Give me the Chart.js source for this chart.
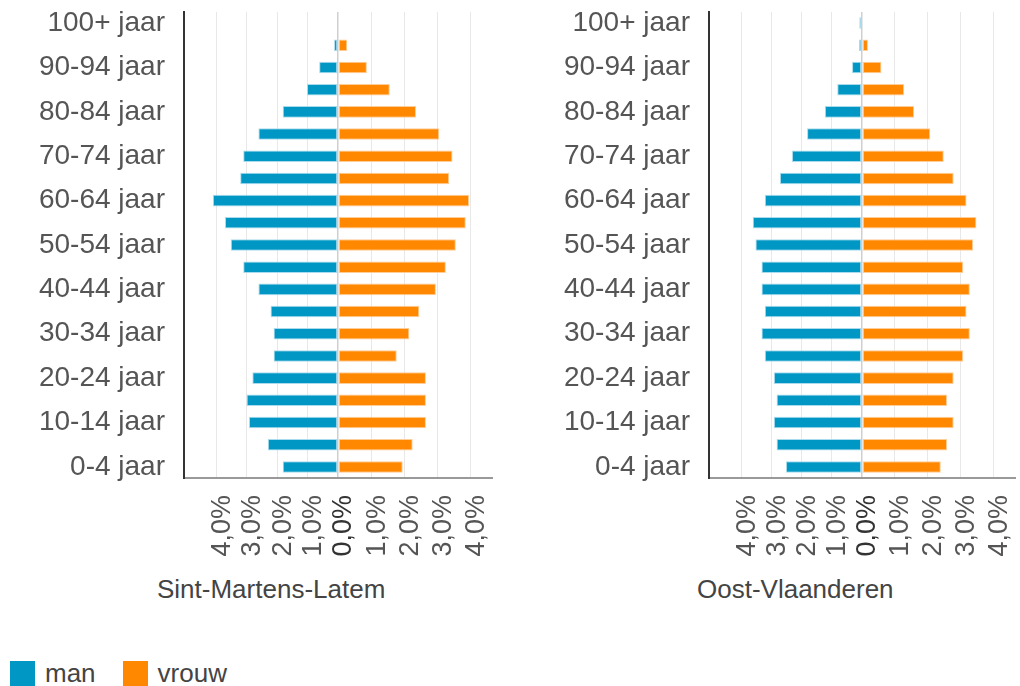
<!DOCTYPE html>
<html>
<head>
<meta charset="utf-8">
<script src="https://cdn.jsdelivr.net/npm/chart.js@4.4.1/dist/chart.umd.min.js"></script>
<style>
  body { margin: 0; background: #fff; width: 1020px; height: 686px; overflow: hidden; position: relative; font-family: 'Liberation Sans', Arial, sans-serif; color: #444; }
  .paneel { position: absolute; top: 0; height: 570px; }
  .titel { position: absolute; top: 574px; font-size: 26px; line-height: 30px; color: #444; }
  .legende { position: absolute; top: 658px; left: 10px; font-size: 26px; line-height: 30px; color: #444; }
  .legende span.blok { display: inline-block; width: 25px; height: 25px; vertical-align: -4px; margin-right: 10px; }
</style>
</head>
<body>
<div class="paneel" style="left:0;width:510px"><canvas id="latem"></canvas></div>
<div class="paneel" style="left:520px;width:500px"><canvas id="ovl"></canvas></div>
<div class="titel" style="left:157px">Sint-Martens-Latem</div>
<div class="titel" style="left:697px">Oost-Vlaanderen</div>
<div class="legende">
  <span class="blok" style="background:#0097c4"></span>man<span class="blok" style="background:#ff8800;margin-left:27px"></span>vrouw
</div>
<script>
const leeftijden = ['100+ jaar', '95-99 jaar', '90-94 jaar', '85-89 jaar', '80-84 jaar', '75-79 jaar', '70-74 jaar',
  '65-69 jaar', '60-64 jaar', '55-59 jaar', '50-54 jaar', '45-49 jaar', '40-44 jaar', '35-39 jaar', '30-34 jaar',
  '25-29 jaar', '20-24 jaar', '15-19 jaar', '10-14 jaar', '5-9 jaar', '0-4 jaar'];

// aandeel in % van de totale bevolking
const latemMan = [0, 0.13, 0.62, 1.02, 1.82, 2.62, 3.12, 3.22, 4.12, 3.72, 3.53, 3.12, 2.62, 2.22, 2.12, 2.12, 2.82, 3.01, 2.93, 2.31, 1.82];
const latemVrouw = [0, 0.28, 0.87, 1.56, 2.35, 3.05, 3.45, 3.35, 3.95, 3.85, 3.55, 3.25, 2.95, 2.45, 2.15, 1.77, 2.65, 2.65, 2.65, 2.25, 1.95];
const ovlMan = [0.09, 0.1, 0.33, 0.82, 1.23, 1.82, 2.32, 2.72, 3.22, 3.62, 3.53, 3.33, 3.33, 3.22, 3.33, 3.22, 2.92, 2.83, 2.92, 2.83, 2.52];
const ovlVrouw = [0, 0.18, 0.59, 1.28, 1.58, 2.07, 2.48, 2.78, 3.17, 3.47, 3.37, 3.07, 3.27, 3.17, 3.27, 3.07, 2.78, 2.58, 2.78, 2.58, 2.39];

const xTicks = [-4, -3, -2, -1, 0, 1, 2, 3, 4];
const xMin = -5.07;
const xMax = 4.64;

// as met nul in het midden: mannen- en vrouwenkant hebben elk een eigen schaal
class SplitScale extends Chart.LinearScale {
  getPixelForValue(value) {
    if (value === null || isNaN(value)) return NaN;
    const dec = value < 0 ? 0.5 * (value - this.min) / (0 - this.min) : 0.5 + 0.5 * value / this.max;
    return this.getPixelForDecimal(dec);
  }
  getValueForPixel(pixel) {
    const d = this.getDecimalForPixel(pixel);
    return d < 0.5 ? this.min + (d / 0.5) * (0 - this.min) : ((d - 0.5) / 0.5) * this.max;
  }
}
SplitScale.id = 'split';
SplitScale.defaults = Chart.LinearScale.defaults;
Chart.register(SplitScale);

Chart.defaults.font.family = "'Liberation Sans', Arial, sans-serif";
Chart.defaults.color = '#555';

function geenRand(scale) {
  scale.paddingTop = 0;
  scale.paddingBottom = 0;
  scale.paddingLeft = 0;
  scale.paddingRight = 0;
}

function makePiramide(id, man, vrouw, yWidth, padRight) {
  const ctx = document.getElementById(id).getContext('2d');
  return new Chart(ctx, {
    type: 'bar',
    data: {
      labels: leeftijden,
      datasets: [{
        label: 'man',
        data: man.map(v => -v),
        backgroundColor: '#0097c4',
        borderColor: 'rgba(160,215,235,0.9)',
        borderWidth: 1,
        borderSkipped: false,
        barPercentage: 0.52,
        categoryPercentage: 1
      }, {
        label: 'vrouw',
        data: vrouw,
        backgroundColor: '#ff8800',
        borderColor: 'rgba(255,200,140,0.9)',
        borderWidth: 1,
        borderSkipped: false,
        barPercentage: 0.52,
        categoryPercentage: 1
      }]
    },
    options: {
      indexAxis: 'y',
      responsive: true,
      maintainAspectRatio: false,
      animation: false,
      layout: { padding: { top: 12, right: padRight, left: 0, bottom: 0 } },
      plugins: { legend: { display: false }, tooltip: { enabled: false } },
      scales: {
        x: {
          type: 'split',
          stacked: true,
          min: xMin,
          max: xMax,
          afterBuildTicks: scale => { scale.ticks = xTicks.map(v => ({ value: v })); },
          afterFit: scale => { scale.height = 92; geenRand(scale); },
          grid: {
            drawTicks: false,
            color: c => (c.tick && c.tick.value === 0 ? '#cfcfcf' : '#e8e8e8'),
            lineWidth: c => (c.tick && c.tick.value === 0 ? 1.5 : 1)
          },
          border: { display: true, color: '#999', width: 2 },
          ticks: {
            autoSkip: false,
            minRotation: 90,
            maxRotation: 90,
            padding: 17,
            labelOffset: 6,
            color: c => (c.tick && c.tick.value === 0 ? '#333' : '#555'),
            font: { size: 27 },
            callback: v => Math.abs(v).toFixed(1).replace('.', ',') + '%'
          }
        },
        y: {
          stacked: true,
          afterFit: scale => { scale.width = yWidth; geenRand(scale); },
          grid: { display: false, drawTicks: false },
          border: { display: true, color: '#333', width: 2 },
          ticks: {
            autoSkip: false,
            padding: 19,
            font: { size: 28 },
            callback: (v, i) => (i % 2 === 0 ? leeftijden[i] : '')
          }
        }
      }
    }
  });
}

makePiramide('latem', latemMan, latemVrouw, 184, 18);
makePiramide('ovl', ovlMan, ovlVrouw, 189, 5);
</script>
</body>
</html>
